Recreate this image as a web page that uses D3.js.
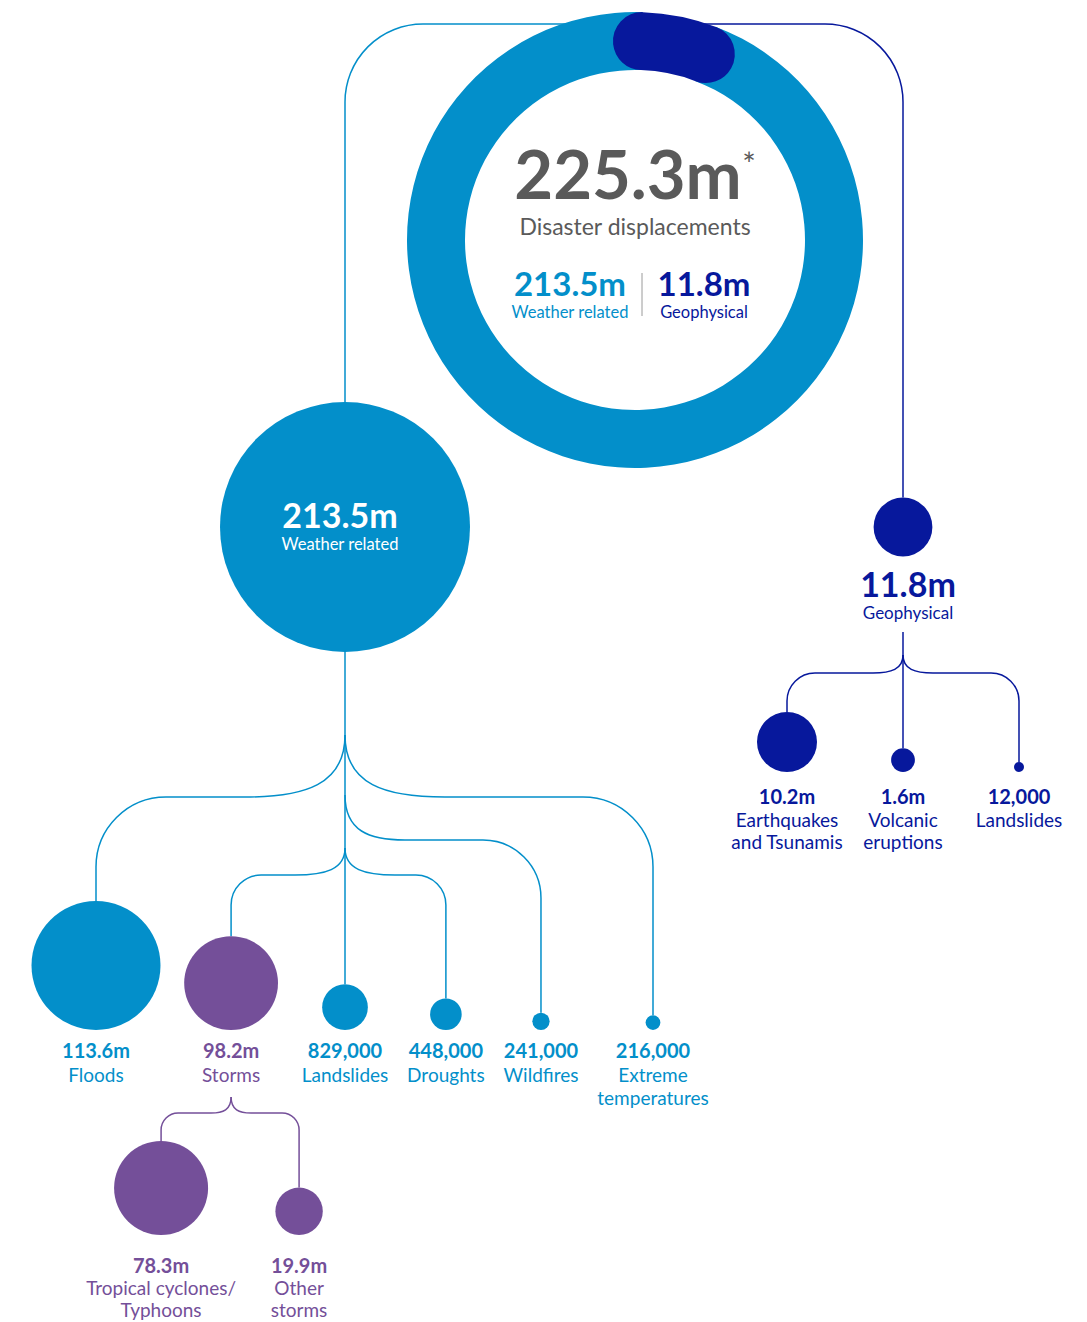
<!DOCTYPE html>
<html>
<head>
<meta charset="utf-8">
<script src="https://cdn.jsdelivr.net/npm/d3@7"></script>
<style>
body { margin: 0; background: #fff; }
text { font-family: Lato, "Open Sans", sans-serif; }
</style>
</head>
<body>
<script>
// ---- data (millions of displacements) ----
var total = 225.3;
var totalLabel = "225.3m";
var groupNames = ["Weather related", "Geophysical"];
var groupValues = [213.5, 11.8];
var groupLabels = ["213.5m", "11.8m"];

var weatherNames = ["Floods", "Storms", "Landslides", "Droughts", "Wildfires", "Extreme\ntemperatures"];
var weatherValues = [113.6, 98.2, 0.829, 0.448, 0.241, 0.216];
var weatherLabels = ["113.6m", "98.2m", "829,000", "448,000", "241,000", "216,000"];

var stormNames = ["Tropical cyclones/\nTyphoons", "Other\nstorms"];
var stormValues = [78.3, 19.9];
var stormLabels = ["78.3m", "19.9m"];

var geoNames = ["Earthquakes\nand Tsunamis", "Volcanic\neruptions", "Landslides"];
var geoValues = [10.2, 1.6, 0.012];
var geoLabels = ["10.2m", "1.6m", "12,000"];

var lightBlue = "#038fca", navy = "#07189c", purple = "#744f99", grey = "#5a5a5a";

var width = 1087, height = 1322;
var svg = d3.select("body").append("svg")
  .attr("width", width)
  .attr("height", height);

var lines = svg.append("g").attr("fill", "none").attr("stroke-width", 1.5);
var marks = svg.append("g");
var texts = svg.append("g");

// ---- scales ----
var cx = 635, cy = 240, rIn = 170, rOut = 228;
var rTop = d3.scaleSqrt().domain([0, groupValues[0]]).range([0, 125]);
var topX = d3.scalePoint().domain(groupNames).range([345, 903]);
var topY = 527;

// weather sub categories use the stepped sizing of the original
var rWeather = d3.scaleLog().domain([0.2, 1, 100, 120]).range([6.5, 25, 47, 72]);
var rStorm = d3.scaleSqrt().domain([0, stormValues[0]]).range([0, 47]);
var rGeo = d3.scaleSqrt().domain([0, geoValues[0]]).range([0, 30]);
function geoR(v) { return Math.max(5, rGeo(v)); }

// ---- helpers ----
function branch(x0, ys, yh, x1, yEnd, run, r) {
  var p = d3.path(), s = x1 > x0 ? 1 : -1;
  p.moveTo(x0, ys);
  p.bezierCurveTo(x0, ys + (yh - ys) * 0.8, x0 + s * run * 0.4, yh, x0 + s * run, yh);
  p.lineTo(x1 - s * r, yh);
  p.arcTo(x1, yh, x1, yh + r, r);
  p.lineTo(x1, yEnd);
  return p.toString();
}

function addLabel(g, x, y, value, name, color) {
  var t = g.append("g").attr("fill", color).attr("text-anchor", "middle");
  t.append("text")
    .attr("x", x).attr("y", y)
    .attr("font-size", 20).attr("font-weight", 700)
    .text(value);
  name.split("\n").forEach(function(line, i) {
    t.append("text")
      .attr("x", x).attr("y", y + 24 + i * 23)
      .attr("font-size", 19)
      .text(line);
  });
  return t;
}

// ---- top connectors (drawn under the ring) ----
var topY0 = 24, corner = 78;
groupNames.forEach(function(name, i) {
  var x = topX(name), s = x < cx ? -1 : 1;
  var p = d3.path();
  p.moveTo(cx, topY0);
  p.lineTo(x - s * corner, topY0);
  p.arcTo(x, topY0, x, topY0 + corner, corner);
  p.lineTo(x, topY - rTop(groupValues[i]));
  lines.append("path")
    .attr("d", p.toString())
    .attr("stroke", i == 0 ? lightBlue : navy);
});

// ---- donut ----
var ring = svg.append("g").attr("transform", "translate(" + cx + "," + cy + ")");
var geoStart = 2 * Math.PI / 180;
var geoSpan = 2 * Math.PI * groupValues[1] / total;
var pie = d3.pie().sort(null)
  .startAngle(geoStart + geoSpan - 2 * Math.PI)
  .endAngle(geoStart + geoSpan);
var slices = pie(groupValues);

var arc = d3.arc().innerRadius(rIn).outerRadius(rOut);
ring.append("path").attr("d", arc(slices[0])).attr("fill", lightBlue);

// geophysical slice, drawn with round ends
var half = (rOut - rIn) / 2;
var capAngle = Math.asin(half / (rIn + half));
var capArc = d3.arc().innerRadius(rIn).outerRadius(rOut).cornerRadius(half);
ring.append("path")
  .attr("d", capArc({startAngle: slices[1].startAngle - capAngle, endAngle: slices[1].endAngle + capAngle}))
  .attr("fill", navy);

// centre text
texts.append("text")
  .attr("x", cx - 7).attr("y", 199)
  .attr("text-anchor", "middle")
  .attr("font-size", 67).attr("font-weight", 700)
  .attr("fill", grey)
  .text(totalLabel);
texts.append("text")
  .attr("x", 749).attr("y", 176)
  .attr("text-anchor", "middle")
  .attr("font-size", 32)
  .attr("fill", grey)
  .text("*");
texts.append("text")
  .attr("x", cx).attr("y", 235)
  .attr("text-anchor", "middle")
  .attr("font-size", 23)
  .attr("fill", grey)
  .text("Disaster displacements");

var inner = d3.scalePoint().domain(groupNames).range([570, 704]);
groupNames.forEach(function(name, i) {
  var col = i == 0 ? lightBlue : navy;
  texts.append("text")
    .attr("x", inner(name)).attr("y", 296)
    .attr("text-anchor", "middle")
    .attr("font-size", 33).attr("font-weight", 700)
    .attr("fill", col)
    .text(groupLabels[i]);
  texts.append("text")
    .attr("x", inner(name)).attr("y", 318)
    .attr("text-anchor", "middle")
    .attr("font-size", 16.5)
    .attr("fill", col)
    .text(name);
});
lines.append("line")
  .attr("x1", 642).attr("x2", 642)
  .attr("y1", 273).attr("y2", 316)
  .attr("stroke", "#9a9a9a").attr("stroke-width", 1);

// ---- second level circles ----
groupNames.forEach(function(name, i) {
  marks.append("circle")
    .attr("cx", topX(name)).attr("cy", topY)
    .attr("r", rTop(groupValues[i]))
    .attr("fill", i == 0 ? lightBlue : navy);
});

// weather related text inside its circle
texts.append("text")
  .attr("x", topX(groupNames[0]) - 5).attr("y", 528)
  .attr("text-anchor", "middle")
  .attr("font-size", 34).attr("font-weight", 700)
  .attr("fill", "#fff")
  .text(groupLabels[0]);
texts.append("text")
  .attr("x", topX(groupNames[0]) - 5).attr("y", 550)
  .attr("text-anchor", "middle")
  .attr("font-size", 16.5)
  .attr("fill", "#fff")
  .text(groupNames[0]);

// geophysical text under its circle
var gx = topX(groupNames[1]);
texts.append("text")
  .attr("x", gx + 5).attr("y", 597)
  .attr("text-anchor", "middle")
  .attr("font-size", 34).attr("font-weight", 700)
  .attr("fill", navy)
  .text(groupLabels[1]);
texts.append("text")
  .attr("x", gx + 5).attr("y", 619)
  .attr("text-anchor", "middle")
  .attr("font-size", 17)
  .attr("fill", navy)
  .text(groupNames[1]);

// ---- weather breakdown ----
var wx0 = topX(groupNames[0]);
var wBottom = 1030, wLabelY = 1058;
var wLeft = 96, wRight = 653;
var anchor = 2; // "Landslides" hangs straight below the trunk

// labels first, so the row can be spaced by their widths
var wLabels = weatherNames.map(function(name, i) {
  var col = i == 1 ? purple : lightBlue;
  return addLabel(texts, 0, wLabelY, weatherLabels[i], name, col);
});
var wW = wLabels.map(function(t, i) {
  return Math.max(t.node().getBBox().width, 2 * rWeather(weatherValues[i]));
});
function pair(i) { return (wW[i] + wW[i + 1]) / 2; }
var wX = [];
wX[anchor] = wx0;
var leftSum = d3.sum(d3.range(0, anchor), pair);
var gapL = (wx0 - wLeft - leftSum) / anchor;
for (var i = anchor - 1; i >= 0; i--) wX[i] = wX[i + 1] - pair(i) - gapL;
var rightSum = d3.sum(d3.range(anchor, wW.length - 1), pair);
var gapR = (wRight - wx0 - rightSum) / (wW.length - 1 - anchor);
for (var i = anchor + 1; i < wW.length; i++) wX[i] = wX[i - 1] + pair(i - 1) + gapR;
wLabels.forEach(function(t, i) {
  t.attr("transform", "translate(" + wX[i] + ",0)");
});

var tiers = [
  {ys: 735, yh: 797, run: 100, r: 70},
  {ys: 795, yh: 840, run: 60, r: 58},
  {ys: 848, yh: 875, run: 50, r: 30}
];
lines.append("line")
  .attr("x1", wx0).attr("x2", wx0)
  .attr("y1", topY + rTop(groupValues[0])).attr("y2", tiers[2].ys)
  .attr("stroke", lightBlue);

weatherValues.forEach(function(v, i) {
  var r = rWeather(v), x = wX[i], y = wBottom - r;
  var d = Math.abs(x - wx0);
  var path;
  if (d < 12) {
    path = "M" + wx0 + "," + tiers[2].ys + "L" + x + "," + (y - r);
  } else {
    var t = tiers[d > 230 ? 0 : d > 150 ? 1 : 2];
    path = branch(wx0, t.ys, t.yh, x, y - r, t.run, t.r);
  }
  lines.append("path").attr("d", path).attr("stroke", lightBlue);
  marks.append("circle")
    .attr("cx", x).attr("cy", y).attr("r", r)
    .attr("fill", i == 1 ? purple : lightBlue);
});

// ---- storms breakdown ----
var sx0 = wX[1];
var stormX = d3.scalePoint().domain(stormNames).range([sx0 - 70, sx0 + 68]);
var sBottom = 1235;
stormValues.forEach(function(v, i) {
  var r = rStorm(v), x = stormX(stormNames[i]), y = sBottom - r;
  lines.append("path")
    .attr("d", branch(sx0, 1097, 1113, x, y - r, 20, 17))
    .attr("stroke", purple);
  marks.append("circle")
    .attr("cx", x).attr("cy", y).attr("r", r)
    .attr("fill", purple);
  var t = addLabel(texts, x, 1273, stormLabels[i], stormNames[i], purple);
  t.selectAll("text").filter(function(d, j) { return j > 0; })
    .attr("y", function(d, j) { return 1295 + j * 22; });
});

// ---- geophysical breakdown ----
var geoX = d3.scalePoint().domain(geoNames).range([787, 1019]);
var gBottom = 772;
var gTrunk = geoX(geoNames[1]);
lines.append("line")
  .attr("x1", gTrunk).attr("x2", gTrunk)
  .attr("y1", 632).attr("y2", gBottom - 2 * geoR(geoValues[1]))
  .attr("stroke", navy);
geoValues.forEach(function(v, i) {
  var r = geoR(v), x = geoX(geoNames[i]), y = gBottom - r;
  if (Math.abs(x - gTrunk) > 5) {
    lines.append("path")
      .attr("d", branch(gTrunk, 655, 673, x, y - r, 30, 28))
      .attr("stroke", navy);
  }
  marks.append("circle")
    .attr("cx", x).attr("cy", y).attr("r", r)
    .attr("fill", navy);
  var t = addLabel(texts, x, 804, geoLabels[i], geoNames[i], navy);
  t.selectAll("text").filter(function(d, j) { return j > 0; })
    .attr("y", function(d, j) { return 827 + j * 22; });
});
</script>
</body>
</html>
